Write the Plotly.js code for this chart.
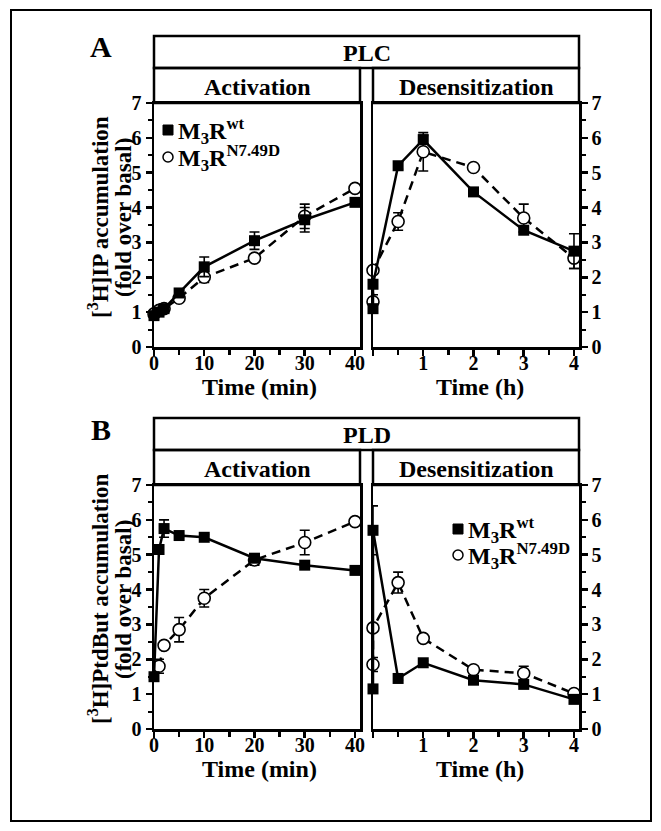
<!DOCTYPE html>
<html><head><meta charset="utf-8">
<script src="https://cdn.plot.ly/plotly-3.0.1.min.js"></script>
<style>html,body{margin:0;padding:0;background:#fff}#chart{width:661px;height:831px}</style>
</head><body><div id="chart"></div>
<script>
const W = 661, H = 831;
// ---------- DATA ----------
// Panel A (PLC, [3H]IP accumulation)
const actTimeMin = [0, 1, 2, 5, 10, 20, 30, 40];
const plcActWt = [0.9, 1.0, 1.1, 1.55, 2.3, 3.05, 3.65, 4.15];
const plcActWtErr = [0.05, 0.05, 0.1, 0.08, 0.28, 0.25, 0.35, 0.08];
const plcActMut = [0.95, 1.05, 1.1, 1.4, 2.0, 2.55, 3.75, 4.55];
const plcActMutErr = [0.05, 0.05, 0.1, 0.05, 0.15, 0.05, 0.35, 0.05];
const desTimeH = [0, 0, 0.5, 1, 2, 3, 4];
const plcDesWt = [1.1, 1.8, 5.2, 5.95, 4.45, 3.35, 2.75];
const plcDesWtErr = [0.1, 0.1, 0.1, 0.12, 0.05, 0.05, 0.5];
const plcDesMut = [1.3, 2.2, 3.6, 5.6, 5.15, 3.7, 2.55];
const plcDesMutErr = [0.2, 0.05, 0.25, 0.55, 0.05, 0.4, 0.3];
// Panel B (PLD, [3H]PtdBut accumulation)
const pldActTimeWt = [0, 1, 2, 5, 10, 20, 30, 40];
const pldActWt = [1.5, 5.15, 5.75, 5.55, 5.5, 4.9, 4.7, 4.55];
const pldActWtErr = [0.05, 0.1, 0.25, 0.05, 0.08, 0.05, 0.05, 0.05];
const pldActTimeMut = [1, 2, 5, 10, 20, 30, 40];
const pldActMut = [1.8, 2.4, 2.85, 3.75, 4.85, 5.35, 5.95];
const pldActMutErr = [0.2, 0.05, 0.35, 0.25, 0.15, 0.35, 0.05];
const pldDesWt = [1.15, 5.7, 1.45, 1.9, 1.4, 1.28, 0.85];
const pldDesWtErr = [0.05, 0.7, 0.05, 0.05, 0.05, 0.05, 0.1];
const pldDesMut = [1.85, 2.9, 4.2, 2.6, 1.7, 1.6, 1.02];
const pldDesMutErr = [0.2, 0.05, 0.3, 0.05, 0.1, 0.2, 0.05];
// tick labels
const minTicks = [0, 10, 20, 30, 40];
const hourTicks = [0, 1, 2, 3, 4];
const hourTickText = ['', '1', '2', '3', '4'];
const yTicks = [0, 1, 2, 3, 4, 5, 6, 7];

// ---------- STYLE / LAYOUT ----------
const FONT = 'Liberation Serif, Times New Roman, Times, serif';
const px = x => x / W;
const py = y => 1 - y / H;
const LW = 2.5;

const L = {x0: 154, x1: 360}, R = {x0: 373, x1: 579};
const A = {top: 103, bot: 347, pTop: 36, sTop: 68};
const OFF = 382;
const B = {top: A.top + OFF, bot: A.bot + OFF, pTop: A.pTop + OFF, sTop: A.sTop + OFF};

function wt(x, y, e, xa, ya) {
  return {x: x, y: y, xaxis: xa, yaxis: ya, type: 'scatter', mode: 'lines+markers', cliponaxis: false,
    line: {color: '#000', width: LW},
    marker: {symbol: 'square', size: 11, color: '#000'},
    error_y: {type: 'data', array: e, color: '#000', thickness: 1.6, width: 5},
    name: 'M3Rwt', hoverinfo: 'x+y'};
}
function mut(x, y, e, xa, ya) {
  return {x: x, y: y, xaxis: xa, yaxis: ya, type: 'scatter', mode: 'lines+markers', cliponaxis: false,
    line: {color: '#000', width: LW, dash: '9px,6px'},
    marker: {symbol: 'circle', size: 12, color: '#fff', line: {color: '#000', width: 1.6}},
    error_y: {type: 'data', array: e, color: '#000', thickness: 1.6, width: 5},
    name: 'M3RN7.49D', hoverinfo: 'x+y'};
}

const data = [
  mut(actTimeMin, plcActMut, plcActMutErr, 'x', 'y'),
  wt(actTimeMin, plcActWt, plcActWtErr, 'x', 'y'),
  mut(desTimeH, plcDesMut, plcDesMutErr, 'x2', 'y2'),
  wt(desTimeH, plcDesWt, plcDesWtErr, 'x2', 'y2'),
  mut(pldActTimeMut, pldActMut, pldActMutErr, 'x3', 'y3'),
  wt(pldActTimeWt, pldActWt, pldActWtErr, 'x3', 'y3'),
  mut(desTimeH, pldDesMut, pldDesMutErr, 'x4', 'y4'),
  wt(desTimeH, pldDesWt, pldDesWtErr, 'x4', 'y4')
];

const tickFont = {family: FONT, size: 20, color: '#000', weight: 'bold'};
function xMin(anchor) {
  return {domain: [px(L.x0), px(L.x1)], range: [0, 41], anchor: anchor,
    tickmode: 'array', tickvals: minTicks, ticks: 'outside', ticklen: 6, tickwidth: LW, tickcolor: '#000',
    ticklabelstandoff: -10,
    minor: {tickmode: 'array', tickvals: [5, 15, 25, 35], ticks: 'outside', ticklen: 5, tickwidth: LW, tickcolor: '#000'},
    showline: true, linewidth: LW, linecolor: '#000', mirror: true, showgrid: false, zeroline: false,
    tickfont: tickFont};
}
function xHour(anchor) {
  return {domain: [px(R.x0), px(R.x1)], range: [0, 4.1], anchor: anchor,
    tickmode: 'array', tickvals: hourTicks, ticktext: hourTickText, ticks: 'outside', ticklen: 6, tickwidth: LW, tickcolor: '#000',
    ticklabelstandoff: -10,
    minor: {tickmode: 'array', tickvals: [0.5, 1.5, 2.5, 3.5], ticks: 'outside', ticklen: 5, tickwidth: LW, tickcolor: '#000'},
    showline: true, linewidth: LW, linecolor: '#000', mirror: true, showgrid: false, zeroline: false,
    tickfont: tickFont};
}
function yAx(P, anchor, side) {
  return {domain: [py(P.bot), py(P.top)], range: [0, 7], anchor: anchor, side: side,
    tickmode: 'array', tickvals: yTicks, ticks: 'outside', ticklen: 6, tickwidth: LW, tickcolor: '#000',
    minor: {tickmode: 'array', tickvals: [0.5, 1.5, 2.5, 3.5, 4.5, 5.5, 6.5], ticks: 'outside', ticklen: 4, tickwidth: 2, tickcolor: '#000'},
    showline: true, linewidth: LW, linecolor: '#000', mirror: true, showgrid: false, zeroline: false,
    tickfont: tickFont};
}

const shapes = [];
function box(x0, x1, y0, y1) {
  shapes.push({type: 'rect', xref: 'paper', yref: 'paper', x0: px(x0), x1: px(x1), y0: py(y1), y1: py(y0),
    line: {color: '#000', width: LW}, fillcolor: 'rgba(0,0,0,0)'});
}
// outer frame
shapes.push({type: 'rect', xref: 'paper', yref: 'paper', x0: px(11), x1: px(651), y0: py(821), y1: py(10),
  line: {color: '#000', width: 2}, fillcolor: 'rgba(0,0,0,0)'});
[A, B].forEach(P => {
  box(L.x0, R.x1, P.pTop, P.sTop);
  box(L.x0, L.x1, P.sTop, P.top);
  box(R.x0, R.x1, P.sTop, P.top);
});

const annotations = [];
function txt(t, x, y, size, opts) {
  annotations.push(Object.assign({text: t, xref: 'paper', yref: 'paper', x: px(x), y: py(y), showarrow: false,
    xanchor: 'center', yanchor: 'middle', font: {family: FONT, size: size, color: '#000', weight: 'bold'}}, opts || {}));
}
function panelText(P, title, letter, yl1, yl2) {
  txt(title, (L.x0 + R.x1) / 2, (P.pTop + P.sTop) / 2 + 1, 24);
  txt('Activation', (L.x0 + L.x1) / 2, (P.sTop + P.top) / 2 + 1, 24);
  txt('Desensitization', (R.x0 + R.x1) / 2, (P.sTop + P.top) / 2 + 1, 24);
  txt('Time (min)', 259, P.bot + 40, 24);
  txt('Time (h)', 480, P.bot + 40, 24);
  txt(letter, 101, P.pTop + 11, 30);
  const yc = (P.top + P.bot) / 2 - 8;
  txt(yl1, 98, yc, 23, {textangle: -90});
  txt(yl2, 123, yc, 23, {textangle: -90});
}
panelText(A, 'PLC', 'A', '[<sup>3</sup>H]IP accumulation', '(fold over basal)');
panelText(B, 'PLD', 'B', '[<sup>3</sup>H]PtdBut accumulation', '(fold over basal)');

// legends (symbol shapes + text)
function legend(xs, yWt, yMut) {
  shapes.push({type: 'rect', xref: 'paper', yref: 'paper', x0: px(xs - 5), x1: px(xs + 5), y0: py(yWt + 5), y1: py(yWt - 5),
    line: {color: '#000', width: 1}, fillcolor: '#000'});
  shapes.push({type: 'circle', xref: 'paper', yref: 'paper', x0: px(xs - 5), x1: px(xs + 5), y0: py(yMut + 5), y1: py(yMut - 5),
    line: {color: '#000', width: 1.5}, fillcolor: '#fff'});
  txt('M<sub>3</sub>R<sup>wt</sup>', xs + 8, yWt + 1, 24, {xanchor: 'left'});
  txt('M<sub>3</sub>R<sup>N7.49D</sup>', xs + 8, yMut + 1, 24, {xanchor: 'left'});
}
legend(168, A.top + 27, A.top + 54);
legend(458, B.top + 44, B.top + 70);

const layout = {
  width: W, height: H, margin: {l: 0, r: 0, t: 0, b: 0},
  paper_bgcolor: '#fff', plot_bgcolor: '#fff', showlegend: false,
  xaxis: xMin('y'), yaxis: yAx(A, 'x', 'left'),
  xaxis2: xHour('y2'), yaxis2: yAx(A, 'x2', 'right'),
  xaxis3: xMin('y3'), yaxis3: yAx(B, 'x3', 'left'),
  xaxis4: xHour('y4'), yaxis4: yAx(B, 'x4', 'right'),
  shapes: shapes, annotations: annotations,
  font: {family: FONT, color: '#000'}
};
Plotly.newPlot('chart', data, layout, {displayModeBar: false, staticPlot: true});
</script></body></html>
